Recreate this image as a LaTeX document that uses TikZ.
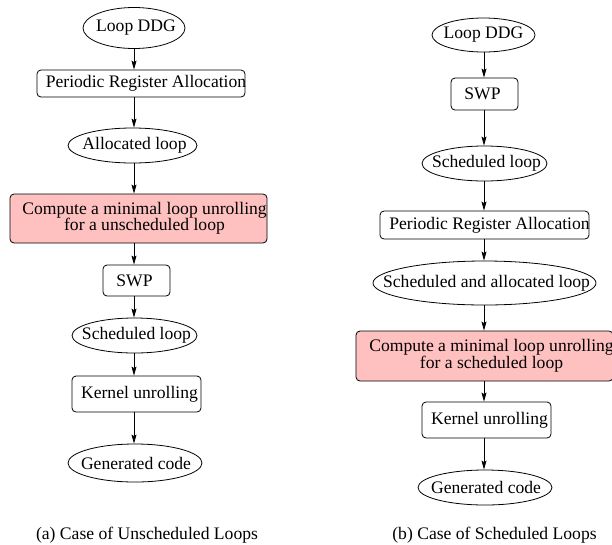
\documentclass[tikz,border=0pt]{standalone}
\usepackage{fontspec}
\setmainfont{Liberation Serif}
\usetikzlibrary{shapes.geometric,arrows.meta}
\definecolor{hotpink}{RGB}{255,192,192}
\newcommand\fs{\fontsize{17.6}{16.5}\selectfont}
\tikzset{
  base/.style={draw, line width=0.8pt, inner sep=0pt},
  oval/.style={base, ellipse},
  rbox/.style={base, rectangle, rounded corners=4pt},
  hot/.style={rbox, fill=hotpink},
  txt/.style={font=\fs, align=center, inner sep=0pt},
  flow/.style={-{Stealth[length=9pt,width=5pt,inset=1.5pt]}, line width=0.8pt},
  captext/.style={font=\fs, inner sep=0pt}
}
\begin{document}
\begin{tikzpicture}[x=1pt,y=-1pt]
\useasboundingbox (0,0) rectangle (612,544);

% (a) unscheduled loops
\node[oval, minimum width=102pt, minimum height=41pt,
  label={[txt,xshift=2pt]center:Loop DDG}] (a1) at (134,28) {};
\node[rbox, minimum width=208pt, minimum height=27pt,
  label={[txt,xshift=5pt]center:Periodic Register Allocation}] (a2) at (141,83.5) {};
\node[oval, minimum width=129pt, minimum height=35pt,
  label={[txt,xshift=2pt]center:Allocated loop}] (a3) at (132.5,145.5) {};
\node[hot, minimum width=257pt, minimum height=49pt,
  label={[txt,xshift=6pt]center:Compute a minimal loop unrolling\\for a unscheduled loop}] (a4) at (138.5,218.5) {};
\node[rbox, minimum width=67pt, minimum height=31pt,
  label={[txt,xshift=-2pt]center:SWP}] (a5) at (136.5,280.5) {};
\node[oval, minimum width=125pt, minimum height=35pt,
  label={[txt,xshift=2pt]center:Scheduled loop}] (a6) at (134.5,335.5) {};
\node[rbox, minimum width=129pt, minimum height=36pt,
  label={[txt,xshift=3pt]center:Kernel unrolling}] (a7) at (136.5,394) {};
\node[oval, minimum width=134pt, minimum height=38pt,
  label={[txt,xshift=1pt]center:Generated code}] (a8) at (135,463) {};
\node[captext] (ca) at (147,535) {(a) Case of Unscheduled Loops};

\foreach \u/\v in {a1/a2,a2/a3,a3/a4,a4/a5,a5/a6,a6/a7,a7/a8}
  \draw[flow] (\u.south -| 134,0) -- (\v.north -| 134,0);

% (b) scheduled loops
\node[oval, minimum width=103pt, minimum height=34pt,
  label={[txt,xshift=0pt]center:Loop DDG}] (b1) at (483.5,35) {};
\node[rbox, minimum width=67pt, minimum height=32pt,
  label={[txt,xshift=-2pt]center:SWP}] (b2) at (484.5,94) {};
\node[oval, minimum width=125pt, minimum height=35pt,
  label={[txt,xshift=2pt]center:Scheduled loop}] (b3) at (484.5,163.5) {};
\node[rbox, minimum width=209pt, minimum height=28pt,
  label={[txt,xshift=5pt]center:Periodic Register Allocation}] (b4) at (484.5,225) {};
\node[oval, minimum width=223pt, minimum height=44pt,
  label={[txt,xshift=2pt]center:Scheduled and allocated loop}] (b5) at (484.5,283) {};
\node[hot, minimum width=257pt, minimum height=50pt,
  label={[txt,xshift=7pt]center:Compute a minimal loop unrolling\\for a scheduled loop}] (b6) at (484.5,356) {};
\node[rbox, minimum width=129pt, minimum height=36pt,
  label={[txt,xshift=3pt]center:Kernel unrolling}] (b7) at (486.5,420) {};
\node[oval, minimum width=134pt, minimum height=35pt,
  label={[txt,xshift=1pt]center:Generated code}] (b8) at (485,487.5) {};
\node[captext] (cb) at (494.5,535) {(b) Case of Scheduled Loops};

\foreach \u/\v in {b1/b2,b2/b3,b3/b4,b4/b5,b5/b6,b6/b7,b7/b8}
  \draw[flow] (\u.south -| 484,0) -- (\v.north -| 484,0);
\end{tikzpicture}
\end{document}
